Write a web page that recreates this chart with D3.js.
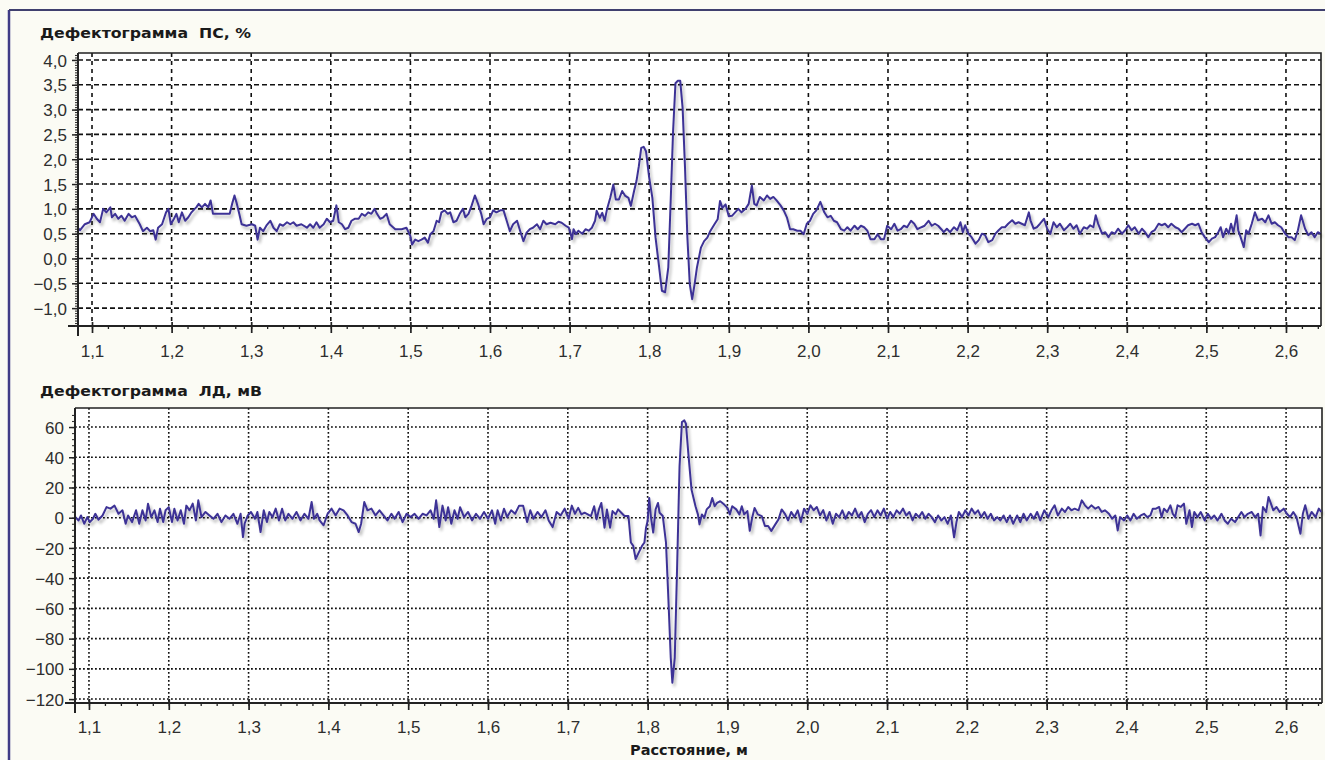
<!DOCTYPE html>
<html><head><meta charset="utf-8">
<script src="https://cdn.jsdelivr.net/npm/d3@7"></script>
<style>
html,body{margin:0;padding:0;background:#fbfbf4;}
svg{display:block;}
</style></head>
<body>
<svg id="chart" width="1325" height="760"></svg>
<script>
// ---------- DATA ----------
const xTicks = [1.1,1.2,1.3,1.4,1.5,1.6,1.7,1.8,1.9,2.0,2.1,2.2,2.3,2.4,2.5,2.6];
const psTicks = [-1,-0.5,0,0.5,1,1.5,2,2.5,3,3.5,4];
const ldTicks = [-120,-100,-80,-60,-40,-20,0,20,40,60];

const psTitle = "Дефектограмма\u00A0\u00A0ПС, %";
const ldTitle = "Дефектограмма\u00A0\u00A0ЛД, мВ";
const xTitle = "Расстояние, м";

// Defectogram PS, % : distance (m)
const psDist = [1.082,1.085,1.091,1.097,1.102,1.106,1.110,1.114,1.118,1.123,1.125,1.129,1.133,1.137,1.141,1.146,1.150,1.154,1.160,1.164,1.169,1.173,1.177,1.180,1.183,1.188,1.193,1.196,1.199,1.203,1.206,1.209,1.213,1.217,1.221,1.225,1.229,1.231,1.234,1.238,1.242,1.246,1.249,1.252,1.259,1.267,1.273,1.276,1.279,1.282,1.285,1.288,1.294,1.301,1.305,1.308,1.311,1.315,1.319,1.324,1.328,1.332,1.336,1.340,1.345,1.349,1.353,1.357,1.363,1.370,1.374,1.378,1.382,1.386,1.391,1.395,1.399,1.403,1.407,1.410,1.414,1.418,1.422,1.426,1.430,1.435,1.439,1.443,1.447,1.451,1.455,1.458,1.462,1.466,1.470,1.474,1.481,1.489,1.495,1.500,1.502,1.506,1.510,1.514,1.518,1.522,1.525,1.529,1.533,1.536,1.539,1.543,1.547,1.550,1.554,1.558,1.562,1.566,1.569,1.573,1.577,1.581,1.585,1.589,1.592,1.596,1.600,1.604,1.608,1.613,1.617,1.621,1.625,1.629,1.634,1.638,1.642,1.646,1.650,1.654,1.659,1.663,1.667,1.671,
1.676,1.682,1.686,1.690,1.695,1.699,1.701,1.703,1.705,1.708,1.711,1.716,1.720,1.724,1.728,1.732,1.734,1.738,1.741,1.744,1.747,1.751,1.755,1.758,1.762,1.766,1.770,1.774,1.777,1.781,1.784,1.787,1.790,1.793,1.796,1.800,1.804,1.808,1.812,1.816,1.820,1.824,1.827,1.830,1.833,1.836,1.839,1.842,1.845,1.848,1.851,1.854,1.857,1.860,1.865,1.869,1.873,1.877,1.882,1.886,1.889,1.892,1.896,
1.900,1.904,1.908,1.912,1.916,1.921,1.925,1.929,1.932,1.935,1.939,1.944,1.948,1.952,1.956,1.960,1.965,1.969,1.973,1.977,1.981,1.986,1.990,1.994,1.998,2.002,2.006,2.010,2.015,2.020,2.024,2.028,2.032,2.036,2.041,2.045,2.049,2.053,2.058,2.062,2.066,2.070,2.074,2.078,2.083,2.087,2.091,2.095,2.099,2.104,2.108,2.112,2.116,2.120,2.124,2.129,2.133,2.137,2.142,2.146,2.151,2.155,2.159,2.163,
2.167,2.170,2.174,2.178,2.183,2.187,2.191,2.194,2.197,2.201,2.205,2.210,2.214,2.218,2.222,2.226,2.231,2.235,2.239,2.243,2.247,2.251,2.256,2.260,2.264,2.268,2.272,2.277,2.279,2.283,2.287,2.291,2.296,2.300,2.304,2.308,2.312,2.316,2.321,2.325,2.329,2.333,2.337,2.341,2.346,2.350,2.354,2.358,2.361,2.364,2.369,2.373,2.377,2.381,2.385,2.389,2.394,2.398,2.402,2.406,2.410,2.415,2.419,2.423,2.427,2.431,2.435,2.440,2.444,2.448,2.452,2.456,2.461,2.465,2.469,2.473,2.477,2.482,2.486,2.490,2.494,2.498,2.503,2.507,2.511,2.515,2.518,2.521,2.525,2.528,2.531,2.534,2.538,2.540,2.543,2.547,2.550,2.553,2.557,2.561,2.565,2.570,2.574,2.578,2.582,2.586,2.590,2.594,2.599,2.603,2.607,2.611,2.615,2.619,2.624,2.628,2.632,2.636,2.640,2.643];
// Defectogram PS, % : value
const psVal = [0.62,0.57,0.69,0.73,0.90,0.80,0.73,1.00,0.93,1.03,0.83,0.90,0.80,0.86,0.76,0.90,0.83,0.86,0.69,0.55,0.62,0.55,0.57,0.38,0.62,0.69,0.93,1.00,0.69,0.80,0.90,0.73,0.93,0.76,0.83,0.93,1.00,1.03,1.10,1.03,1.10,1.03,1.17,0.90,0.90,0.90,0.90,1.10,1.27,1.10,0.90,0.69,0.66,0.69,0.66,0.38,0.62,0.55,0.66,0.76,0.62,0.55,0.69,0.66,0.73,0.69,0.73,0.66,0.69,0.62,0.69,0.62,0.73,0.62,0.69,0.80,0.73,0.76,1.07,0.73,0.69,0.59,0.62,0.76,0.80,0.80,0.90,0.86,0.93,0.90,1.00,0.90,0.80,0.83,0.90,0.69,0.59,0.59,0.62,0.45,0.28,0.38,0.35,0.38,0.42,0.32,0.49,0.55,0.76,0.73,0.93,0.97,0.90,0.93,0.73,0.76,0.90,1.00,0.83,0.90,1.07,1.27,1.10,0.90,0.69,0.80,0.83,0.97,0.93,0.97,0.97,0.76,0.55,0.69,0.76,0.55,0.35,0.52,0.59,0.62,0.69,0.59,0.76,0.69,
0.72,0.69,0.74,0.72,0.66,0.62,0.52,0.39,0.59,0.49,0.56,0.50,0.59,0.56,0.62,0.76,0.96,0.82,0.92,0.76,0.99,1.22,1.49,1.19,1.19,1.36,1.26,1.22,1.06,1.36,1.56,1.86,2.23,2.25,2.16,1.63,1.22,0.42,-0.11,-0.65,-0.68,-0.18,1.16,2.56,3.53,3.58,3.58,3.03,1.83,0.42,-0.52,-0.82,-0.52,-0.18,0.22,0.35,0.42,0.56,0.69,0.79,1.16,1.02,1.09,
0.85,0.86,0.93,1.00,0.93,1.00,1.10,1.47,1.10,1.07,1.24,1.17,1.27,1.20,1.24,1.17,1.07,0.97,0.83,0.59,0.59,0.56,0.56,0.49,0.70,0.76,0.90,0.97,1.14,0.93,0.83,0.86,0.76,0.73,0.59,0.56,0.63,0.56,0.66,0.59,0.66,0.63,0.56,0.39,0.39,0.49,0.39,0.39,0.66,0.59,0.70,0.56,0.59,0.66,0.63,0.76,0.70,0.59,0.63,0.66,0.76,0.66,0.70,0.66,
0.59,0.53,0.60,0.53,0.63,0.57,0.73,0.53,0.67,0.50,0.43,0.30,0.37,0.50,0.47,0.33,0.37,0.50,0.57,0.63,0.63,0.70,0.77,0.70,0.73,0.70,0.67,0.93,0.77,0.60,0.63,0.70,0.80,0.60,0.50,0.73,0.63,0.70,0.57,0.63,0.70,0.60,0.67,0.50,0.63,0.60,0.67,0.63,0.87,0.70,0.50,0.53,0.43,0.53,0.50,0.60,0.50,0.57,0.67,0.57,0.63,0.50,0.60,0.53,0.43,0.53,0.57,0.70,0.67,0.70,0.63,0.70,0.63,0.60,0.53,0.60,0.67,0.70,0.67,0.70,0.53,0.43,0.33,0.40,0.43,0.53,0.63,0.43,0.60,0.50,0.70,0.53,0.87,0.57,0.43,0.23,0.57,0.50,0.70,0.93,0.77,0.80,0.73,0.87,0.70,0.73,0.67,0.63,0.50,0.43,0.43,0.37,0.57,0.87,0.60,0.47,0.53,0.43,0.53,0.50];

// Defectogram LD, mV : distance (m)
const ldDist = [1.083,1.087,1.090,1.094,1.098,1.101,1.105,1.108,1.112,1.117,1.122,1.127,1.132,1.137,1.142,1.146,1.149,1.154,1.159,1.163,1.167,1.171,1.174,1.178,1.182,1.186,1.189,1.193,1.196,1.200,1.204,1.207,1.211,1.215,1.219,1.222,1.226,1.230,1.234,1.237,1.241,1.246,1.251,1.256,1.261,1.266,1.271,1.276,1.281,1.286,1.290,1.293,1.295,1.299,1.303,1.308,1.311,1.315,1.319,1.323,1.326,1.330,1.334,1.338,1.342,1.346,1.350,1.355,1.360,1.365,1.370,1.375,1.379,1.382,1.386,1.389,1.394,1.399,1.404,1.409,1.414,1.419,1.424,1.429,1.434,1.438,1.441,1.445,1.449,1.454,1.459,1.464,1.469,1.474,1.479,1.483,1.488,1.493,1.498,1.503,1.508,1.513,1.518,1.523,1.528,1.532,1.535,1.539,1.543,1.547,1.550,1.554,1.558,1.562,1.565,1.570,1.575,1.580,1.585,1.590,1.595,1.600,1.605,1.609,1.612,1.616,1.620,1.624,1.629,1.634,1.639,1.644,1.649,1.653,1.657,1.662,1.667,1.672,1.676,1.681,1.686,1.691,1.696,1.701,1.705,1.709,
1.713,1.717,1.721,1.725,1.729,1.733,1.736,1.739,1.742,1.746,1.749,1.753,1.756,1.760,1.763,1.767,1.771,1.776,1.779,1.782,1.785,1.789,1.793,1.796,1.798,1.800,1.802,1.804,1.807,1.810,1.813,1.815,1.819,1.823,1.826,1.829,1.831,1.834,1.837,1.840,1.843,1.846,1.848,1.851,1.855,1.860,1.863,1.865,1.868,1.871,1.874,1.878,1.881,1.884,1.887,1.891,1.896,1.900,1.903,1.906,1.911,1.915,1.918,1.921,1.925,1.928,1.931,1.934,1.938,1.943,1.947,1.951,1.955,1.960,1.964,1.968,
1.972,1.976,1.980,1.984,1.988,1.992,1.996,2.000,2.004,2.008,2.012,2.016,2.020,2.024,2.028,2.032,2.036,2.040,2.044,2.048,2.052,2.056,2.060,2.064,2.068,2.072,2.076,2.080,2.084,2.088,2.092,2.096,2.100,2.104,2.108,2.112,2.116,2.120,2.124,2.128,2.132,2.136,2.140,2.144,2.148,2.152,2.156,2.160,2.164,2.168,2.172,2.176,2.180,2.184,2.187,2.190,2.194,2.198,2.202,2.206,2.210,2.214,2.218,2.222,2.226,2.230,2.234,
2.238,2.242,2.246,2.250,2.254,2.258,2.263,2.267,2.271,2.275,2.280,2.284,2.288,2.292,2.297,2.302,2.306,2.310,2.314,2.319,2.323,2.327,2.331,2.335,2.340,2.344,2.348,2.352,2.356,2.361,2.365,2.369,2.373,2.378,2.382,2.386,2.389,2.392,2.397,2.401,2.405,2.409,2.413,2.418,2.422,2.426,2.430,2.433,2.437,2.441,2.444,2.447,2.451,2.455,2.458,2.461,2.464,2.468,2.472,2.475,2.479,2.482,2.485,2.489,2.493,2.498,2.502,2.506,2.510,2.514,2.519,2.523,2.527,2.531,2.536,2.540,2.544,2.548,2.552,2.557,2.561,2.565,2.568,2.571,2.575,2.578,2.581,2.584,2.588,2.592,2.597,2.601,2.605,2.609,2.613,2.618,2.621,2.624,2.628,2.632,2.637,2.641,2.644];
// Defectogram LD, mV : value
const ldVal = [0.4,-1.8,1.5,-4,0.4,-2.9,-0.7,2.6,-1.3,1.5,7,6,8,2.6,4.9,-4,1.5,-2.9,4.9,-4,4.9,-1.8,9.3,0.4,4.9,-2.9,6,-2.9,4.9,7,-2.9,6,-1.8,4.9,-4,8,4.9,9.3,-1.8,11.5,0.4,3.8,1.5,-0.7,2.6,-2.9,1.5,-0.7,2.6,-4,2.6,-12.8,-4,1.5,3.8,-0.7,3.8,-9.5,4.9,-2.9,3.8,0.4,6,-1.8,6,-1.8,2.6,-0.7,3.8,-1.8,2.6,-0.7,10.4,-0.7,2.6,-1.8,-5,2.6,6,1.5,6,4.9,1.5,-2.9,-4,-9.5,-4,10.4,4.9,6,1.5,4.9,1.5,-1.8,2.6,-0.7,3.8,-2.9,2.6,0.4,2.6,-0.7,2.6,1.5,4.9,-0.7,11.5,-6.2,8,-1.8,7,-4,4.9,-0.7,7,0.4,3.8,-1.8,2.6,-0.7,3.8,-0.7,4.9,-4,4.9,-1.8,6,0.4,4.9,2.6,8,8,-2.9,4.9,-0.7,3.8,0.4,4.9,-1.8,-6.2,3.8,1.5,6,-0.7,8,2.6,
6.5,2.2,3.3,2.2,1.1,7.6,-1.1,5.5,9.8,-6.6,5.5,-6.6,4.4,2.2,5.5,3.3,1.1,1.1,-16.4,-18.6,-27.3,-22.9,-18.6,-16.4,-6.6,-2.2,13.1,1.1,-9.8,5.5,9.8,3.3,1.1,-16.4,-53.5,-92.8,-109.2,-92.8,-31.7,33.8,63.3,64.4,62.2,42.6,18.6,7.6,2.2,-4.4,2.2,0,5.5,7.6,13.1,7.6,9.8,10.9,8.7,6.5,2.2,7.6,5.5,2.2,7.6,2.2,4.4,-8.7,0,6.5,2.2,1.1,-5.5,-5.5,-8.7,-4.4,-1.1,5.5,
2.6,-1.8,3.8,0.4,4.9,-2.9,6,2.6,8.2,4.9,7.1,1.5,5,-1.8,3.8,-4,2.6,0.4,4.9,-0.7,3.8,1.5,6,0.4,3.8,-2.9,2.6,5,0.4,4.9,1.5,6,-0.7,3.8,0.4,4.9,2.6,6,1.5,3.8,-1.8,2.6,0.4,3.8,-0.7,2.6,0.4,-2.9,1.5,-1.8,0.4,-4,1.5,-13,-2.9,3.8,0.4,4.9,1.5,6,2.6,4.9,0.4,3.8,-0.7,2.6,-1.8,
0.4,-1.8,1.5,-2.9,1.5,-4,1.5,-2.9,2.6,-1.8,2.6,-0.7,3.8,-1.8,4.9,0.4,4.9,8.2,1.5,6,3.8,7.1,4.9,6,4.9,11.5,8.2,6,8.2,6,7.1,3.8,4.9,2.6,-0.7,1.5,-8.4,0.4,-1.8,1.5,-1.8,2.6,-0.7,1.5,2.6,0.4,1.5,6,6,7.1,0.4,6,3.8,8.2,2.6,0.4,8.2,7.1,9.3,-4,4.9,-6.2,3.8,0.4,3.8,-1.8,2.6,-0.7,1.5,-1.8,2.6,-1.8,-4,-0.7,-2.9,0.4,3.8,0.4,2.6,3.8,0.4,2.6,-11.7,7.1,3.8,13.7,9.3,4.9,7.1,3.8,6,2.6,0.4,3.8,0.4,-10.6,2.6,8.2,-0.7,3.8,0.4,6,3.8];

// ---------- DRAWING ----------
const svg = d3.select("#chart");
const lineColor = "#3d3396";
const labelFont = "'Liberation Sans', Arial, sans-serif";
const titleFont = "'DejaVu Sans', 'Liberation Sans', sans-serif";

const defs = svg.append("defs");
const f = defs.append("filter").attr("id","shadow").attr("x","-5%").attr("y","-5%").attr("width","110%").attr("height","120%");
f.append("feGaussianBlur").attr("in","SourceAlpha").attr("stdDeviation",1.6).attr("result","b");
f.append("feOffset").attr("in","b").attr("dx",2).attr("dy",3).attr("result","o");
f.append("feComponentTransfer").attr("in","o").attr("result","s")
  .append("feFuncA").attr("type","linear").attr("slope",0.28);
const fm = f.append("feMerge");
fm.append("feMergeNode").attr("in","s");
fm.append("feMergeNode").attr("in","SourceGraphic");

// page border
svg.append("line").attr("x1",9).attr("x2",9).attr("y1",10).attr("y2",760)
  .attr("stroke","#403c86").attr("stroke-width",2.5);
svg.append("line").attr("x1",9).attr("x2",1325).attr("y1",10).attr("y2",10)
  .attr("stroke","#3f3f6e").attr("stroke-width",2);

function fmtX(d){ return d.toFixed(1).replace(".", ","); }
function fmtPS(d){ return d.toFixed(1).replace(".", ",").replace("-", "\u2212"); }
function fmtLD(d){ return String(d).replace("-", "\u2212"); }

function panel(cfg){
  const x = d3.scaleLinear().domain(cfg.xDomain).range([cfg.left, cfg.right]);
  const y = d3.scaleLinear().domain(cfg.yDomain).range([cfg.bottom, cfg.top]);
  const g = svg.append("g");

  g.append("rect").attr("x",cfg.left).attr("y",cfg.top)
    .attr("width",cfg.right-cfg.left).attr("height",cfg.bottom-cfg.top)
    .attr("fill","#ffffff");

  // grid
  g.append("g").selectAll("line").data(cfg.yTicks).join("line")
    .attr("x1",cfg.left).attr("x2",cfg.right)
    .attr("y1",d=>y(d)).attr("y2",d=>y(d))
    .attr("stroke","#111").attr("stroke-width",cfg.gridW)
    .attr("stroke-dasharray",cfg.dashH);
  g.append("g").selectAll("line").data(xTicks).join("line")
    .attr("x1",d=>x(d)).attr("x2",d=>x(d))
    .attr("y1",cfg.top).attr("y2",cfg.bottom)
    .attr("stroke","#111").attr("stroke-width",cfg.gridW)
    .attr("stroke-dasharray",cfg.dashV);

  // frame (top and right)
  g.append("path")
    .attr("d",`M${cfg.left},${cfg.top}H${cfg.right}V${cfg.bottom}`)
    .attr("fill","none").attr("stroke","#222").attr("stroke-width",1.6);

  // series
  const pts = cfg.dist.map((d,i)=>[d,cfg.val[i]]);
  g.append("path").datum(pts)
    .attr("d", d3.line().x(d=>x(d[0])).y(d=>y(d[1])))
    .attr("fill","none").attr("stroke",lineColor).attr("stroke-width",2)
    .attr("stroke-linejoin","round").attr("filter","url(#shadow)");

  // x axis minor
  const xMinor = d3.range(Math.ceil(cfg.xDomain[0]*50), Math.floor(cfg.xDomain[1]*50)+1).map(k=>k/50);
  g.append("g").attr("transform",`translate(0,${cfg.bottom})`)
    .call(d3.axisBottom(x).tickValues(xMinor).tickSize(3).tickFormat(""))
    .call(a=>a.select(".domain").remove())
    .selectAll("line").attr("stroke","#222").attr("stroke-width",1.3);
  // x axis major
  const xa = g.append("g").attr("transform",`translate(0,${cfg.bottom})`)
    .call(d3.axisBottom(x).tickValues(xTicks).tickSize(7).tickSizeOuter(0).tickFormat(fmtX));
  xa.select(".domain").attr("stroke","#222").attr("stroke-width",2)
    .attr("d",`M${cfg.left-10},0H${cfg.right}`);
  xa.selectAll("line").attr("stroke","#222").attr("stroke-width",1.7).attr("y1",-4);
  xa.selectAll("text").attr("y",cfg.xLabelY).attr("dy",0)
    .attr("font-family",labelFont).attr("font-size",17).attr("fill","#2e2e2e");

  // y axis minor
  g.append("g").attr("transform",`translate(${cfg.left},0)`)
    .call(d3.axisLeft(y).tickValues(cfg.yMinor).tickSize(3).tickFormat(""))
    .call(a=>a.select(".domain").remove())
    .selectAll("line").attr("stroke","#333").attr("stroke-width",1.1);
  // y axis major
  const ya = g.append("g").attr("transform",`translate(${cfg.left},0)`)
    .call(d3.axisLeft(y).tickValues(cfg.yTicks).tickSize(6).tickSizeOuter(0).tickFormat(cfg.fmtY));
  ya.select(".domain").attr("stroke","#222").attr("stroke-width",2)
    .attr("d",`M0,${cfg.top}V${cfg.bottom+10}`);
  ya.selectAll("line").attr("stroke","#222").attr("stroke-width",1.5);
  ya.selectAll("text").attr("x",-11).attr("dy","0.36em")
    .attr("font-family",labelFont).attr("font-size",17).attr("fill","#2e2e2e");

  // title
  svg.append("text").attr("x",40).attr("y",cfg.titleY)
    .attr("font-family",titleFont).attr("font-weight","bold").attr("font-size",14.5)
    .attr("fill","#1a1a1a").attr("textLength",cfg.titleLen).attr("lengthAdjust","spacingAndGlyphs")
    .text(cfg.title);
}

panel({
  left:78, right:1321, top:53, bottom:326,
  xDomain:[1.0824,2.644], yDomain:[-1.36,4.14],
  yTicks:psTicks, yMinor:d3.range(-27,83).map(k=>k/20), fmtY:fmtPS,
  dist:psDist, val:psVal,
  dashH:"5,3", dashV:"4,4", gridW:1.6,
  xLabelY:31, title:psTitle, titleY:38, titleLen:211
});

panel({
  left:75, right:1322, top:408, bottom:703,
  xDomain:[1.0825,2.645], yDomain:[-122.6,72.6],
  yTicks:ldTicks, yMinor:d3.range(-30,18).map(k=>k*4), fmtY:fmtLD,
  dist:ldDist, val:ldVal,
  dashH:"1.8,2.2", dashV:"1.8,2.2", gridW:1.6,
  xLabelY:30, title:ldTitle, titleY:396, titleLen:222
});

svg.append("text").attr("x",689).attr("y",755).attr("text-anchor","middle")
  .attr("font-family",titleFont).attr("font-weight","bold").attr("font-size",14)
  .attr("fill","#1a1a1a").attr("textLength",118).attr("lengthAdjust","spacingAndGlyphs")
  .text(xTitle);
</script>
</body></html>
